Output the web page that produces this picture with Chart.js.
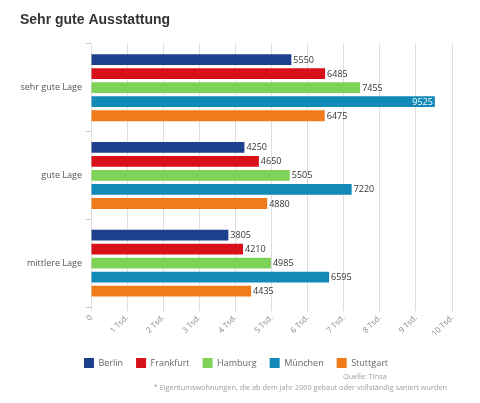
<!DOCTYPE html>
<html>
<head>
<meta charset="utf-8">
<script src="https://cdn.jsdelivr.net/npm/chart.js@4/dist/chart.umd.min.js"></script>
<style>
  html, body { margin: 0; padding: 0; background: #fff; }
  #wrap { width: 480px; height: 403px; position: relative; }
</style>
</head>
<body>
<div id="wrap"><canvas id="chart"></canvas></div>
<script>
// ── data ──────────────────────────────────────────────
const lagen      = ['sehr gute Lage', 'gute Lage', 'mittlere Lage'];
const berlin     = [5550, 4250, 3805];
const frankfurt  = [6485, 4650, 4210];
const hamburg    = [7455, 5505, 4985];
const muenchen   = [9525, 7220, 6595];
const stuttgart  = [6475, 4880, 4435];
const tickLabels = ['0', '1 Tsd.', '2 Tsd.', '3 Tsd.', '4 Tsd.', '5 Tsd.',
                    '6 Tsd.', '7 Tsd.', '8 Tsd.', '9 Tsd.', '10 Tsd.'];

const FONT = "'Open Sans', 'DejaVu Sans', sans-serif";

function series(label, data, color) {
  return {
    label, data,
    backgroundColor: color,
    borderWidth: 0,
    categoryPercentage: 0.8,
    barPercentage: 0.77,
  };
}

// value labels next to bar ends (inside when there is no room)
const valueLabels = {
  id: 'valueLabels',
  afterDatasetsDraw(chart) {
    const { ctx, chartArea } = chart;
    ctx.save();
    ctx.font = '9px ' + FONT;
    ctx.textBaseline = 'middle';
    chart.data.datasets.forEach((ds, i) => {
      chart.getDatasetMeta(i).data.forEach((bar, j) => {
        const txt = String(ds.data[j]);
        const w = ctx.measureText(txt).width;
        if (bar.x + 3 + w > chartArea.right) {
          ctx.fillStyle = '#ffffff';
          ctx.textAlign = 'right';
          ctx.fillText(txt, bar.x - 2, bar.y + 0.5);
        } else {
          ctx.fillStyle = '#333333';
          ctx.textAlign = 'left';
          ctx.fillText(txt, bar.x + 2, bar.y + 0.5);
        }
      });
    });
    ctx.restore();
  },
};

// source + footnote
const footnote = {
  id: 'footnote',
  afterDraw(chart) {
    const { ctx } = chart;
    ctx.save();
    ctx.fillStyle = '#a0a0a0';
    ctx.textBaseline = 'middle';
    ctx.font = '7.3px ' + FONT;
    ctx.textAlign = 'left';
    ctx.fillText('Quelle: Tinsa', 343, 377);
    ctx.textAlign = 'right';
    ctx.fillText('* Eigentumswohnungen, die ab dem Jahr 2000 gebaut oder vollständig saniert wurden', 447, 388);
    ctx.restore();
  },
};

new Chart(document.getElementById('chart'), {
  type: 'bar',
  data: {
    labels: lagen,
    datasets: [
      series('Berlin',    berlin,    '#1d3f8c'),
      series('Frankfurt', frankfurt, '#d7101a'),
      series('Hamburg',   hamburg,   '#7ed258'),
      series('München',   muenchen,  '#128ab8'),
      series('Stuttgart', stuttgart, '#f07b1b'),
    ],
  },
  options: {
    indexAxis: 'y',
    responsive: true,
    maintainAspectRatio: false,
    animation: false,
    layout: { padding: { left: 20, right: 28, top: 0, bottom: 25 } },
    plugins: {
      title: {
        display: true,
        text: 'Sehr gute Ausstattung',
        align: 'start',
        color: '#333333',
        font: { family: "'Liberation Sans', Arial, sans-serif", size: 14, weight: 'bold' },
        padding: { top: 12, bottom: 15 },
      },
      legend: {
        position: 'bottom',
        labels: {
          color: '#666666',
          font: { family: FONT, size: 9 },
          boxWidth: 10,
          boxHeight: 10,
          padding: 13,
        },
      },
      tooltip: { enabled: false },
    },
    scales: {
      x: {
        min: 0,
        max: 10000,
        afterFit: s => { s.height = 38; },
        ticks: {
          stepSize: 1000,
          color: '#888888',
          font: { family: FONT, size: 8 },
          maxRotation: 45,
          minRotation: 45,
          padding: 2,
          callback: (v, i) => tickLabels[i],
        },
        grid: { color: '#dedede', tickLength: 4 },
        border: { display: false },
      },
      y: {
        afterFit: s => { s.width = 71; },
        ticks: { color: '#555555', font: { family: FONT, size: 9 }, padding: 4 },
        grid: { drawOnChartArea: false, color: '#cccccc', tickLength: 5, offset: true },
        border: { display: false },
      },
    },
  },
  plugins: [valueLabels, footnote],
});
</script>
</body>
</html>
